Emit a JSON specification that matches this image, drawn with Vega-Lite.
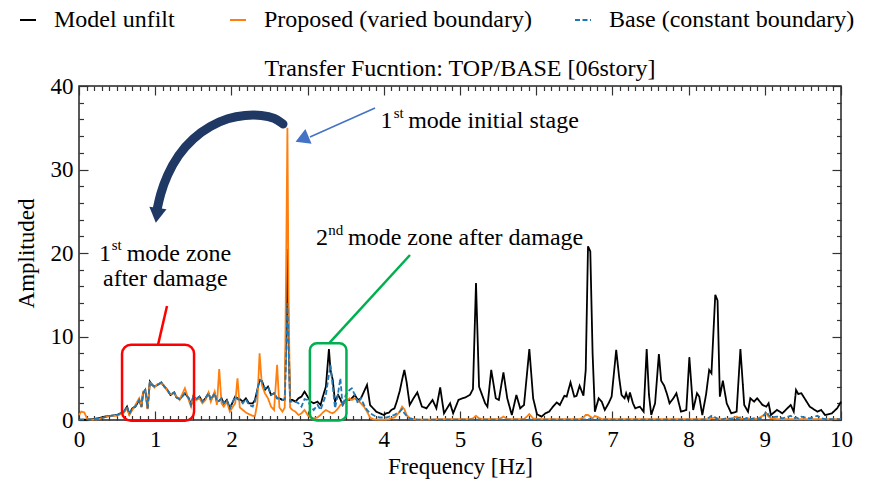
{
"$schema": "https://vega.github.io/schema/vega-lite/v6.json",
"width": 762, "height": 334,
"autosize": {"type": "none"},
"padding": {"left": 79, "top": 86, "right": 34, "bottom": 68},
"background": "white",
"config": {
  "font": "Liberation Serif",
  "view": {"stroke": "#222", "strokeWidth": 1.5},
  "axis": {"labelFont": "Liberation Serif", "labelFontSize": 23, "labelColor": "#000", "titleFont": "Liberation Serif", "titleFontSize": 23, "titleFontWeight": "normal", "titleColor": "#000", "tickColor": "#333", "tickWidth": 1.2, "domain": false, "grid": false, "labelOverlap": false, "labelFlush": false},
  "legend": {"labelFont": "Liberation Serif", "labelFontSize": 24, "labelColor": "#000", "padding": 0},
  "title": {"font": "Liberation Serif"},
  "text": {"font": "Liberation Serif", "color": "#000"}
},
"title": {"text": "Transfer Fucntion: TOP/BASE [06story]", "font": "Liberation Serif", "fontSize": 24, "fontWeight": "normal", "color": "#000", "offset": -73, "anchor": "middle", "frame": "group"},
"datasets": {
"spec": [
{"f":0.00,"m":0.05,"p":0.6,"b":0.05},{"f":0.03,"m":0.05,"p":1.0,"b":0.05},{"f":0.07,"m":0.05,"p":0.9,"b":0.05},{"f":0.11,"m":0.05,"p":0.1,"b":0.05},{"f":0.18,"m":0.1,"p":0.05,"b":0.1},{"f":0.25,"m":0.2,"p":0.1,"b":0.15},{"f":0.33,"m":0.4,"p":0.3,"b":0.3},{"f":0.41,"m":0.5,"p":0.5,"b":0.5},{"f":0.50,"m":0.6,"p":0.5,"b":0.6},{"f":0.59,"m":1.0,"p":0.9,"b":1.0},{"f":0.63,"m":1.6,"p":1.4,"b":1.6},{"f":0.66,"m":0.7,"p":0.6,"b":0.7},{"f":0.70,"m":1.4,"p":1.2,"b":1.4},{"f":0.74,"m":1.6,"p":1.8,"b":1.6},{"f":0.79,"m":2.4,"p":2.6,"b":2.4},{"f":0.82,"m":1.6,"p":1.5,"b":1.6},{"f":0.84,"m":3.2,"p":3.4,"b":3.2},{"f":0.87,"m":3.6,"p":3.5,"b":3.6},{"f":0.90,"m":1.4,"p":1.3,"b":1.4},{"f":0.93,"m":4.6,"p":4.5,"b":4.6},{"f":0.96,"m":4.2,"p":4.3,"b":4.2},{"f":0.99,"m":4.0,"p":3.9,"b":4.0},{"f":1.03,"m":4.2,"p":4.3,"b":4.2},{"f":1.08,"m":4.5,"p":4.4,"b":4.5},{"f":1.12,"m":4.0,"p":4.1,"b":4.0},{"f":1.16,"m":3.6,"p":3.5,"b":3.6},{"f":1.20,"m":3.0,"p":3.1,"b":3.0},{"f":1.25,"m":3.3,"p":3.2,"b":3.3},{"f":1.28,"m":2.7,"p":2.8,"b":2.7},{"f":1.32,"m":2.5,"p":2.4,"b":2.5},{"f":1.35,"m":2.8,"p":3.0,"b":2.8},{"f":1.39,"m":3.2,"p":3.8,"b":3.2},{"f":1.44,"m":2.6,"p":2.4,"b":2.6},{"f":1.47,"m":1.8,"p":1.6,"b":1.8},{"f":1.50,"m":2.8,"p":2.9,"b":2.8},{"f":1.54,"m":2.5,"p":2.4,"b":2.5},{"f":1.58,"m":2.8,"p":2.6,"b":2.8},{"f":1.62,"m":2.2,"p":2.0,"b":2.2},{"f":1.66,"m":2.6,"p":2.4,"b":2.6},{"f":1.70,"m":3.2,"p":3.3,"b":3.2},{"f":1.73,"m":2.4,"p":2.2,"b":2.4},{"f":1.78,"m":3.2,"p":3.4,"b":3.2},{"f":1.81,"m":2.2,"p":1.8,"b":2.2},{"f":1.84,"m":2.3,"p":6.1,"b":2.3},{"f":1.87,"m":2.6,"p":2.0,"b":2.6},{"f":1.90,"m":2.0,"p":1.6,"b":2.0},{"f":1.94,"m":2.4,"p":2.2,"b":2.4},{"f":1.98,"m":1.4,"p":1.0,"b":1.4},{"f":2.02,"m":2.2,"p":1.6,"b":2.2},{"f":2.05,"m":2.8,"p":2.0,"b":2.8},{"f":2.08,"m":2.6,"p":5.0,"b":2.5},{"f":2.11,"m":2.5,"p":1.5,"b":2.4},{"f":2.15,"m":2.2,"p":1.2,"b":2.0},{"f":2.19,"m":2.6,"p":0.9,"b":2.5},{"f":2.23,"m":2.0,"p":0.7,"b":1.8},{"f":2.28,"m":2.0,"p":0.5,"b":1.6},{"f":2.31,"m":2.4,"p":0.5,"b":2.2},{"f":2.34,"m":3.6,"p":2.0,"b":3.6},{"f":2.37,"m":4.8,"p":8.0,"b":4.8},{"f":2.40,"m":4.7,"p":4.2,"b":4.6},{"f":2.44,"m":3.6,"p":3.2,"b":3.8},{"f":2.48,"m":4.0,"p":2.6,"b":4.0},{"f":2.52,"m":3.0,"p":1.6,"b":3.0},{"f":2.56,"m":3.2,"p":1.2,"b":3.2},{"f":2.60,"m":2.6,"p":6.6,"b":2.6},{"f":2.63,"m":2.6,"p":1.5,"b":2.6},{"f":2.67,"m":2.4,"p":1.0,"b":2.4},{"f":2.70,"m":2.4,"p":1.5,"b":2.5},{"f":2.72,"m":11,"p":20,"b":8},{"f":2.735,"m":20.5,"p":35,"b":14},{"f":2.75,"m":10,"p":15,"b":9},{"f":2.77,"m":2.4,"p":1.5,"b":2.2},{"f":2.80,"m":2.4,"p":1.2,"b":2.2},{"f":2.84,"m":2.2,"p":1.0,"b":2.2},{"f":2.88,"m":2.6,"p":0.6,"b":2.0},{"f":2.92,"m":2.8,"p":0.8,"b":1.6},{"f":2.96,"m":3.4,"p":1.2,"b":2.5},{"f":3.00,"m":2.8,"p":0.6,"b":2.4},{"f":3.04,"m":2.2,"p":0.3,"b":1.6},{"f":3.08,"m":2.0,"p":0.2,"b":1.2},{"f":3.13,"m":2.2,"p":0.3,"b":1.8},{"f":3.17,"m":1.8,"p":0.6,"b":1.2},{"f":3.20,"m":2.8,"p":0.9,"b":2.0},{"f":3.24,"m":4.0,"p":1.2,"b":3.0},{"f":3.28,"m":8.5,"p":1.0,"b":5.5},{"f":3.30,"m":6.0,"p":0.9,"b":6.6},{"f":3.33,"m":4.8,"p":0.8,"b":4.0},{"f":3.36,"m":2.2,"p":1.0,"b":1.4},{"f":3.40,"m":3.0,"p":1.4,"b":3.2},{"f":3.43,"m":2.5,"p":1.8,"b":5.0},{"f":3.46,"m":1.8,"p":2.0,"b":1.6},{"f":3.50,"m":2.4,"p":2.2,"b":3.0},{"f":3.55,"m":2.4,"p":2.6,"b":3.6},{"f":3.58,"m":2.6,"p":2.4,"b":3.8},{"f":3.62,"m":3.0,"p":2.6,"b":3.0},{"f":3.66,"m":2.4,"p":2.3,"b":2.0},{"f":3.70,"m":2.6,"p":2.0,"b":2.6},{"f":3.74,"m":3.4,"p":1.6,"b":1.8},{"f":3.78,"m":4.2,"p":1.0,"b":1.2},{"f":3.82,"m":1.8,"p":0.3,"b":0.8},{"f":3.86,"m":1.4,"p":0.1,"b":0.6},{"f":3.90,"m":1.0,"p":0.05,"b":0.4},{"f":3.95,"m":0.8,"p":0.05,"b":0.3},{"f":4.00,"m":0.6,"p":0.05,"b":0.3},{"f":4.03,"m":0.8,"p":0.05,"b":0.3},{"f":4.07,"m":0.9,"p":0.1,"b":0.4},{"f":4.10,"m":1.2,"p":0.2,"b":0.5},{"f":4.14,"m":1.4,"p":0.3,"b":0.6},{"f":4.17,"m":2.2,"p":0.6,"b":0.8},{"f":4.21,"m":3.5,"p":1.0,"b":1.0},{"f":4.24,"m":4.8,"p":1.6,"b":1.3},{"f":4.27,"m":6.0,"p":1.3,"b":0.8},{"f":4.30,"m":4.5,"p":0.6,"b":0.5},{"f":4.34,"m":1.8,"p":0.2,"b":0.2},{"f":4.39,"m":2.6,"p":0.1,"b":0.1},{"f":4.44,"m":3.3,"p":0.05,"b":0.05},
{"f":4.50,"m":1.6,"p":0.05,"b":0.05},{"f":4.56,"m":1.4,"p":0.05,"b":0.05},{"f":4.64,"m":2.4,"p":0.05,"b":0.05},{"f":4.69,"m":1.4,"p":0.1,"b":0.05},{"f":4.74,"m":3.9,"p":0.1,"b":0.05},{"f":4.79,"m":0.8,"p":0.1,"b":0.05},{"f":4.83,"m":1.4,"p":0.1,"b":0.05},{"f":4.87,"m":2.0,"p":0.1,"b":0.05},{"f":4.91,"m":0.8,"p":0.1,"b":0.05},{"f":4.98,"m":2.4,"p":0.1,"b":0.05},{"f":5.03,"m":2.6,"p":0.1,"b":0.05},{"f":5.07,"m":2.7,"p":0.1,"b":0.05},{"f":5.13,"m":3.0,"p":0.1,"b":0.05},{"f":5.17,"m":3.7,"p":0.2,"b":0.05},{"f":5.21,"m":16.4,"p":0.5,"b":0.05},{"f":5.25,"m":4.0,"p":0.2,"b":0.05},{"f":5.29,"m":3.0,"p":0.1,"b":0.05},{"f":5.33,"m":2.0,"p":0.1,"b":0.05},{"f":5.36,"m":1.6,"p":0.1,"b":0.05},{"f":5.41,"m":6.0,"p":0.1,"b":0.05},{"f":5.47,"m":2.6,"p":0.1,"b":0.05},{"f":5.51,"m":2.4,"p":0.1,"b":0.05},{"f":5.57,"m":5.7,"p":0.4,"b":0.05},{"f":5.62,"m":2.6,"p":0.1,"b":0.05},{"f":5.68,"m":0.6,"p":0.1,"b":0.05},{"f":5.74,"m":3.0,"p":0.1,"b":0.05},{"f":5.79,"m":1.4,"p":0.1,"b":0.05},{"f":5.84,"m":1.8,"p":0.1,"b":0.05},{"f":5.91,"m":8.5,"p":0.7,"b":0.05},{"f":5.96,"m":2.6,"p":0.2,"b":0.05},{"f":6.01,"m":0.7,"p":0.1,"b":0.05},{"f":6.07,"m":0.4,"p":0.1,"b":0.05},{"f":6.12,"m":0.8,"p":0.1,"b":0.05},{"f":6.17,"m":1.0,"p":0.1,"b":0.05},{"f":6.22,"m":1.6,"p":0.1,"b":0.05},{"f":6.27,"m":2.1,"p":0.1,"b":0.05},{"f":6.31,"m":1.8,"p":0.1,"b":0.05},{"f":6.37,"m":2.9,"p":0.1,"b":0.05},{"f":6.40,"m":2.8,"p":0.1,"b":0.05},{"f":6.45,"m":4.5,"p":0.1,"b":0.05},{"f":6.50,"m":2.8,"p":0.1,"b":0.05},{"f":6.53,"m":2.9,"p":0.1,"b":0.05},{"f":6.57,"m":4.1,"p":0.1,"b":0.05},{"f":6.62,"m":2.9,"p":0.3,"b":0.05},{"f":6.65,"m":6.0,"p":0.6,"b":0.1},{"f":6.68,"m":20.8,"p":0.6,"b":0.1},{"f":6.71,"m":20.2,"p":0.4,"b":0.1},{"f":6.74,"m":8.0,"p":0.2,"b":0.05},{"f":6.77,"m":1.0,"p":0.5,"b":0.05},{"f":6.82,"m":2.6,"p":0.3,"b":0.05},{"f":6.86,"m":2.2,"p":0.1,"b":0.05},{"f":6.90,"m":1.2,"p":0.1,"b":0.05},{"f":6.95,"m":2.0,"p":0.1,"b":0.05},{"f":6.99,"m":2.8,"p":0.1,"b":0.05},{"f":7.05,"m":8.4,"p":0.1,"b":0.05},{"f":7.09,"m":5.0,"p":0.1,"b":0.05},{"f":7.12,"m":3.0,"p":0.1,"b":0.05},{"f":7.16,"m":2.6,"p":0.1,"b":0.05},{"f":7.18,"m":3.2,"p":0.1,"b":0.05},{"f":7.21,"m":2.4,"p":0.1,"b":0.05},{"f":7.23,"m":3.3,"p":0.1,"b":0.05},{"f":7.27,"m":2.0,"p":0.1,"b":0.05},{"f":7.30,"m":1.4,"p":0.1,"b":0.05},{"f":7.36,"m":1.6,"p":0.1,"b":0.05},{"f":7.41,"m":1.0,"p":0.1,"b":0.05},{"f":7.45,"m":8.5,"p":0.1,"b":0.05},{"f":7.48,"m":3.0,"p":0.1,"b":0.05},{"f":7.51,"m":0.6,"p":0.1,"b":0.05},{"f":7.56,"m":2.0,"p":0.1,"b":0.05},{"f":7.61,"m":7.9,"p":0.1,"b":0.05},{"f":7.64,"m":4.7,"p":0.1,"b":0.05},{"f":7.68,"m":4.1,"p":0.1,"b":0.05},{"f":7.72,"m":3.0,"p":0.1,"b":0.05},{"f":7.75,"m":2.0,"p":0.1,"b":0.05},{"f":7.80,"m":2.6,"p":0.1,"b":0.05},{"f":7.84,"m":3.2,"p":0.1,"b":0.05},{"f":7.90,"m":1.0,"p":0.1,"b":0.05},{"f":7.97,"m":1.2,"p":0.1,"b":0.05},{"f":8.01,"m":7.5,"p":0.1,"b":0.05},{"f":8.06,"m":1.2,"p":0.1,"b":0.05},{"f":8.11,"m":3.2,"p":0.1,"b":0.05},{"f":8.14,"m":2.8,"p":0.1,"b":0.05},{"f":8.18,"m":0.6,"p":0.1,"b":0.05},{"f":8.23,"m":3.1,"p":0.1,"b":0.1},{"f":8.27,"m":6.0,"p":0.1,"b":0.3},{"f":8.30,"m":5.6,"p":0.2,"b":0.5},{"f":8.35,"m":15.0,"p":0.3,"b":0.3},{"f":8.38,"m":14.3,"p":0.2,"b":0.1},{"f":8.41,"m":2.8,"p":0.1,"b":0.05},{"f":8.45,"m":4.7,"p":0.1,"b":0.1},{"f":8.50,"m":2.0,"p":0.1,"b":0.2},{"f":8.56,"m":0.8,"p":0.2,"b":0.1},{"f":8.63,"m":1.0,"p":0.4,"b":0.2},{"f":8.68,"m":8.5,"p":0.2,"b":0.3},{"f":8.73,"m":1.8,"p":0.1,"b":0.1},{"f":8.78,"m":1.0,"p":0.2,"b":0.3},{"f":8.81,"m":2.6,"p":0.1,"b":0.1},{"f":8.86,"m":2.2,"p":0.2,"b":0.2},{"f":8.90,"m":2.6,"p":0.1,"b":0.1},{"f":8.97,"m":1.8,"p":0.5,"b":0.3},{"f":9.02,"m":1.6,"p":0.8,"b":1.0},{"f":9.05,"m":2.0,"p":0.4,"b":0.6},{"f":9.08,"m":0.6,"p":0.2,"b":0.3},{"f":9.16,"m":1.2,"p":0.1,"b":0.4},{"f":9.23,"m":0.8,"p":0.1,"b":0.2},{"f":9.34,"m":1.8,"p":0.1,"b":0.5},{"f":9.38,"m":1.0,"p":0.1,"b":0.2},{"f":9.41,"m":3.6,"p":0.1,"b":0.3},{"f":9.44,"m":3.1,"p":0.1,"b":0.2},{"f":9.48,"m":3.2,"p":0.1,"b":0.4},{"f":9.59,"m":1.6,"p":0.1,"b":0.2},{"f":9.69,"m":1.0,"p":0.1,"b":0.5},{"f":9.74,"m":1.2,"p":0.1,"b":0.2},{"f":9.79,"m":0.6,"p":0.1,"b":0.1},{"f":9.88,"m":0.8,"p":0.1,"b":0.1},{"f":9.95,"m":1.4,"p":0.1,"b":0.1},{"f":10.0,"m":2.2,"p":0.1,"b":0.1}
],
"redbox": [{"x1": 0.565, "x2": 1.51, "y1": -0.1, "y2": 9.0}],
"greenbox": [{"x1": 3.03, "x2": 3.51, "y1": -0.05, "y2": 9.18}],
"redline": [{"x1": 1.037, "y1": 9.0, "x2": 1.155, "y2": 13.65}],
"greenline": [{"x1": 3.281, "y1": 9.18, "x2": 4.344, "y2": 19.76}],
"bluearrow": [{"x1": 3.885, "y1": 37.37, "x2": 3.031, "y2": 33.89}],
"bluehead": [{"x": 2.927, "y": 33.65}],
"curve": [
{"o":1,"x":2.677,"y":35.45},{"o":2,"x":2.572,"y":36.17},{"o":3,"x":2.402,"y":36.53},{"o":4,"x":2.178,"y":36.53},{"o":5,"x":1.955,"y":36.17},{"o":6,"x":1.719,"y":35.21},{"o":7,"x":1.496,"y":33.77},{"o":8,"x":1.299,"y":31.74},{"o":9,"x":1.155,"y":29.34},{"o":10,"x":1.063,"y":26.95},{"o":11,"x":1.024,"y":25.15}
],
"curvehead": [{"x": 1.022, "y": 24.5}],
"maintext": [
{"x": 3.957, "y": 34.97, "t": "1"},
{"x": 4.32, "y": 34.97, "t": "mode initial stage"},
{"x": 0.262, "y": 19.04, "t": "1"},
{"x": 0.625, "y": 19.04, "t": "mode zone"},
{"x": 0.315, "y": 16.05, "t": "after damage"},
{"x": 3.11, "y": 20.96, "t": "2"},
{"x": 3.53, "y": 20.96, "t": "mode zone after damage"}
],
"suptext": [
{"x": 4.13, "y": 36.17, "t": "st"},
{"x": 0.43, "y": 20.36, "t": "st"},
{"x": 3.27, "y": 22.16, "t": "nd"}
]
},
"layer": [
{
 "data": {"name": "spec"},
 "transform": [{"fold": ["m", "p", "b"], "as": ["s", "a"]}],
 "mark": {"type": "line", "strokeWidth": 1.8},
 "encoding": {
  "x": {"field": "f", "type": "quantitative", "scale": {"domain": [0, 10], "nice": false},
   "axis": {"orient": "bottom", "title": "Frequency [Hz]", "titlePadding": 0,
    "values": [0,0.1,0.2,0.3,0.4,0.5,0.6,0.7,0.8,0.9,1,1.1,1.2,1.3,1.4,1.5,1.6,1.7,1.8,1.9,2,2.1,2.2,2.3,2.4,2.5,2.6,2.7,2.8,2.9,3,3.1,3.2,3.3,3.4,3.5,3.6,3.7,3.8,3.9,4,4.1,4.2,4.3,4.4,4.5,4.6,4.7,4.8,4.9,5,5.1,5.2,5.3,5.4,5.5,5.6,5.7,5.8,5.9,6,6.1,6.2,6.3,6.4,6.5,6.6,6.7,6.8,6.9,7,7.1,7.2,7.3,7.4,7.5,7.6,7.7,7.8,7.9,8,8.1,8.2,8.3,8.4,8.5,8.6,8.7,8.8,8.9,9,9.1,9.2,9.3,9.4,9.5,9.6,9.7,9.8,9.9,10],
    "labelExpr": "datum.value % 1 === 0 ? format(datum.value, 'd') : ''",
    "tickSize": {"condition": {"test": "datum.value % 1 === 0", "value": -9}, "value": -4.5},
    "labelPadding": 17}},
  "y": {"field": "a", "type": "quantitative", "scale": {"domain": [0, 40], "nice": false},
   "axis": {"orient": "left", "title": "Amplituded", "titlePadding": 12,
    "values": [0,2,4,6,8,10,12,14,16,18,20,22,24,26,28,30,32,34,36,38,40],
    "labelExpr": "datum.value % 10 === 0 ? format(datum.value, 'd') : ''",
    "tickSize": {"condition": {"test": "datum.value % 10 === 0", "value": -9}, "value": -4.5},
    "labelPadding": 15}},
  "color": {"field": "s", "type": "nominal", "scale": {"domain": ["m", "p", "b"], "range": ["#000000", "#ff7f0e", "#1f77b4"]},
   "legend": {"orient": "none", "legendX": -63, "legendY": -78, "direction": "horizontal", "title": null, "padding": 0, "symbolType": "stroke", "symbolSize": 256, "symbolStrokeWidth": 2.2, "labelFont": "Liberation Serif", "labelFontSize": 24, "labelColor": "#000", "labelOffset": 14, "columnPadding": 20, "labelLimit": 500,
    "labelExpr": "datum.value === 'm' ? 'Model unfilt\u00a0\u00a0\u00a0\u00a0\u00a0\u200b' : datum.value === 'p' ? 'Proposed (varied boundary)\u00a0\u00a0\u00a0\u200b' : 'Base (constant boundary)'"}},
  "strokeDash": {"field": "s", "type": "nominal", "scale": {"domain": ["m", "p", "b"], "range": [[1, 0], [1, 0], [5, 2.5]]},
   "legend": {"orient": "none", "legendX": -63, "legendY": -78, "direction": "horizontal", "title": null, "padding": 0, "symbolType": "stroke", "symbolSize": 256, "symbolStrokeWidth": 2.2, "labelFont": "Liberation Serif", "labelFontSize": 24, "labelColor": "#000", "labelOffset": 14, "columnPadding": 20, "labelLimit": 500,
    "labelExpr": "datum.value === 'm' ? 'Model unfilt\u00a0\u00a0\u00a0\u00a0\u00a0\u200b' : datum.value === 'p' ? 'Proposed (varied boundary)\u00a0\u00a0\u00a0\u200b' : 'Base (constant boundary)'"}}
 }
},
{
 "data": {"name": "redbox"},
 "mark": {"type": "rect", "fillOpacity": 0, "stroke": "#ff0000", "strokeWidth": 2.5, "cornerRadius": 9},
 "encoding": {
  "x": {"field": "x1", "type": "quantitative", "scale": {"domain": [0, 10], "nice": false},
   "axis": {"orient": "top", "title": null, "labels": false,
    "values": [0,0.1,0.2,0.3,0.4,0.5,0.6,0.7,0.8,0.9,1,1.1,1.2,1.3,1.4,1.5,1.6,1.7,1.8,1.9,2,2.1,2.2,2.3,2.4,2.5,2.6,2.7,2.8,2.9,3,3.1,3.2,3.3,3.4,3.5,3.6,3.7,3.8,3.9,4,4.1,4.2,4.3,4.4,4.5,4.6,4.7,4.8,4.9,5,5.1,5.2,5.3,5.4,5.5,5.6,5.7,5.8,5.9,6,6.1,6.2,6.3,6.4,6.5,6.6,6.7,6.8,6.9,7,7.1,7.2,7.3,7.4,7.5,7.6,7.7,7.8,7.9,8,8.1,8.2,8.3,8.4,8.5,8.6,8.7,8.8,8.9,9,9.1,9.2,9.3,9.4,9.5,9.6,9.7,9.8,9.9,10],
    "tickSize": {"condition": {"test": "datum.value % 1 === 0", "value": -9}, "value": -4.5}}},
  "x2": {"field": "x2"},
  "y": {"field": "y1", "type": "quantitative", "scale": {"domain": [0, 40], "nice": false},
   "axis": {"orient": "right", "title": null, "labels": false,
    "values": [0,2,4,6,8,10,12,14,16,18,20,22,24,26,28,30,32,34,36,38,40],
    "tickSize": {"condition": {"test": "datum.value % 10 === 0", "value": -9}, "value": -4.5}}},
  "y2": {"field": "y2"}
 }
},
{
 "data": {"name": "greenbox"},
 "mark": {"type": "rect", "fillOpacity": 0, "stroke": "#00b050", "strokeWidth": 2.5, "cornerRadius": 7},
 "encoding": {
  "x": {"field": "x1", "type": "quantitative", "scale": {"domain": [0, 10], "nice": false}, "axis": null},
  "x2": {"field": "x2"},
  "y": {"field": "y1", "type": "quantitative", "scale": {"domain": [0, 40], "nice": false}, "axis": null},
  "y2": {"field": "y2"}
 }
},
{
 "data": {"name": "redline"},
 "mark": {"type": "rule", "stroke": "#ff0000", "strokeWidth": 2.5},
 "encoding": {
  "x": {"field": "x1", "type": "quantitative", "scale": {"domain": [0, 10], "nice": false}, "axis": null},
  "x2": {"field": "x2"},
  "y": {"field": "y1", "type": "quantitative", "scale": {"domain": [0, 40], "nice": false}, "axis": null},
  "y2": {"field": "y2"}
 }
},
{
 "data": {"name": "greenline"},
 "mark": {"type": "rule", "stroke": "#00b050", "strokeWidth": 2.5},
 "encoding": {
  "x": {"field": "x1", "type": "quantitative", "scale": {"domain": [0, 10], "nice": false}, "axis": null},
  "x2": {"field": "x2"},
  "y": {"field": "y1", "type": "quantitative", "scale": {"domain": [0, 40], "nice": false}, "axis": null},
  "y2": {"field": "y2"}
 }
},
{
 "data": {"name": "bluearrow"},
 "mark": {"type": "rule", "stroke": "#4472c4", "strokeWidth": 1.5},
 "encoding": {
  "x": {"field": "x1", "type": "quantitative", "scale": {"domain": [0, 10], "nice": false}, "axis": null},
  "x2": {"field": "x2"},
  "y": {"field": "y1", "type": "quantitative", "scale": {"domain": [0, 40], "nice": false}, "axis": null},
  "y2": {"field": "y2"}
 }
},
{
 "data": {"name": "bluehead"},
 "mark": {"type": "point", "shape": "triangle-up", "filled": true, "color": "#4472c4", "opacity": 1, "size": 260, "angle": 247.5},
 "encoding": {
  "x": {"field": "x", "type": "quantitative", "scale": {"domain": [0, 10], "nice": false}, "axis": null},
  "y": {"field": "y", "type": "quantitative", "scale": {"domain": [0, 40], "nice": false}, "axis": null}
 }
},
{
 "data": {"name": "curve"},
 "mark": {"type": "line", "stroke": "#1f3864", "strokeWidth": 9, "interpolate": "basis", "strokeCap": "round"},
 "encoding": {
  "x": {"field": "x", "type": "quantitative", "scale": {"domain": [0, 10], "nice": false}, "axis": null},
  "y": {"field": "y", "type": "quantitative", "scale": {"domain": [0, 40], "nice": false}, "axis": null},
  "order": {"field": "o", "type": "quantitative"}
 }
},
{
 "data": {"name": "curvehead"},
 "mark": {"type": "point", "shape": "triangle-down", "filled": true, "color": "#1f3864", "opacity": 1, "size": 300, "angle": 8},
 "encoding": {
  "x": {"field": "x", "type": "quantitative", "scale": {"domain": [0, 10], "nice": false}, "axis": null},
  "y": {"field": "y", "type": "quantitative", "scale": {"domain": [0, 40], "nice": false}, "axis": null}
 }
},
{
 "data": {"name": "maintext"},
 "mark": {"type": "text", "font": "Liberation Serif", "fontSize": 24, "align": "left", "baseline": "alphabetic", "color": "#000"},
 "encoding": {
  "x": {"field": "x", "type": "quantitative", "scale": {"domain": [0, 10], "nice": false}, "axis": null},
  "y": {"field": "y", "type": "quantitative", "scale": {"domain": [0, 40], "nice": false}, "axis": null},
  "text": {"field": "t"}
 }
},
{
 "data": {"name": "suptext"},
 "mark": {"type": "text", "font": "Liberation Serif", "fontSize": 15, "align": "left", "baseline": "alphabetic", "color": "#000"},
 "encoding": {
  "x": {"field": "x", "type": "quantitative", "scale": {"domain": [0, 10], "nice": false}, "axis": null},
  "y": {"field": "y", "type": "quantitative", "scale": {"domain": [0, 40], "nice": false}, "axis": null},
  "text": {"field": "t"}
 }
}
],
"resolve": {"axis": {"x": "independent", "y": "independent"}}
}
